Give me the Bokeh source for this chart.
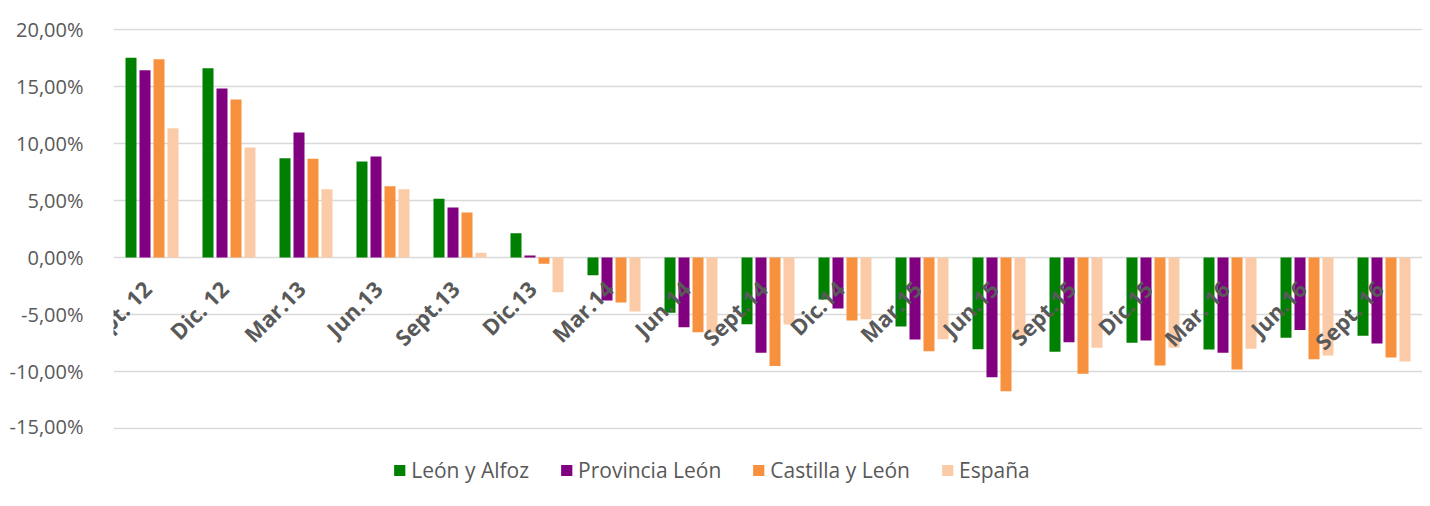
import math
from bokeh.plotting import figure
from bokeh.layouts import column
from bokeh.models import (FactorRange, FixedTicker, Legend, LegendItem, ColumnDataSource,
                          Spacer, LabelSet)
from bokeh.core.properties import value
from bokeh.transform import dodge
from bokeh.embed import file_html
from bokeh.resources import INLINE

categories = ["Sept. 12", "Dic. 12", "Mar.13", "Jun.13", "Sept.13", "Dic.13", "Mar.14",
              "Jun.14", "Sept.14", "Dic.14", "Mar.15", "Jun.15", "Sept.15", "Dic.15",
              "Mar. 16", "Jun.16", "Sept. 16"]

leon_alfoz = [17.52, 16.60, 8.71, 8.42, 5.15, 2.13, -1.55, -4.85, -5.85, -3.68, -6.05,
              -8.04, -8.27, -7.48, -8.07, -7.05, -6.87]
provincia_leon = [16.43, 14.82, 10.96, 8.86, 4.39, 0.18, -3.77, -6.11, -8.36, -4.47, -7.19,
                  -10.50, -7.43, -7.28, -8.36, -6.37, -7.54]
castilla_leon = [17.40, 13.86, 8.66, 6.26, 3.95, -0.55, -3.95, -6.55, -9.53, -5.53, -8.22,
                 -11.73, -10.20, -9.47, -9.82, -8.92, -8.77]
espana = [11.34, 9.65, 5.99, 5.99, 0.41, -3.04, -4.74, -6.58, -5.88, -5.41, -7.17,
          -7.13, -7.92, -7.92, -8.01, -8.60, -9.12]

series_names = ["León y Alfoz", "Provincia León", "Castilla y León", "España"]
series_colors = ["#008000", "#800080", "#F8913D", "#FBCBA7"]

y_ticks = [-15, -10, -5, 0, 5, 10, 15, 20]
y_tick_labels = ["-15,00%", "-10,00%", "-5,00%", "0,00%", "5,00%", "10,00%", "15,00%", "20,00%"]

source = ColumnDataSource(data=dict(cat=categories, s0=leon_alfoz, s1=provincia_leon,
                                    s2=castilla_leon, s3=espana,
                                    zero=[0] * len(categories)))

FONT = "Open Sans"
TXT = "#595959"
GRID = "#D9D9D9"

p = figure(x_range=FactorRange(factors=categories, range_padding=0),
           y_range=(-15.09, 20.09), frame_width=1309, frame_height=401,
           output_backend="svg", toolbar_location=None, x_axis_location=None,
           min_border_left=113, min_border_right=0, min_border_top=28,
           min_border_bottom=10)
p.outline_line_color = None
p.background_fill_color = "white"
p.border_fill_color = "white"

step = 14.0 / 77.0
bw = 11.0 / 77.0
offsets = [-1.5 * step, -0.5 * step, 0.5 * step, 1.5 * step]
for i, col in enumerate(series_colors):
    p.vbar(x=dodge("cat", offsets[i], range=p.x_range), top="s%d" % i, bottom=0,
           width=bw, source=source, fill_color=col, line_color=None)

# y axis
p.yaxis.ticker = FixedTicker(ticks=y_ticks)
p.yaxis.major_label_overrides = {t: l for t, l in zip(y_ticks, y_tick_labels)}
p.yaxis.axis_line_color = None
p.yaxis.major_tick_line_color = None
p.yaxis.minor_tick_line_color = None
p.yaxis.major_label_standoff = 24
p.yaxis.major_label_text_font = FONT
p.yaxis.major_label_text_font_size = "20px"
p.yaxis.major_label_text_color = TXT

p.ygrid.ticker = FixedTicker(ticks=y_ticks)
p.ygrid.grid_line_color = GRID
p.ygrid.grid_line_width = 1.5
p.xgrid.grid_line_color = None

# category labels placed at the zero line
labels = LabelSet(x="cat", y="zero", text="cat", source=source,
                  x_offset=-5, y_offset=-27, angle=math.pi / 4,
                  text_align="right", text_baseline="middle",
                  text_font=value(FONT), text_font_style="bold",
                  text_font_size="22px", text_color=TXT)
p.add_layout(labels)

# legend strip below the chart (its bars fall outside its own view)
lf = figure(x_range=p.x_range, y_range=(100, 101), frame_width=1405, frame_height=40,
            output_backend="svg", toolbar_location=None,
            x_axis_location=None, y_axis_location=None,
            min_border_left=17, min_border_right=0, min_border_top=17,
            min_border_bottom=0)
lf.outline_line_color = None
lf.background_fill_color = "white"
lf.border_fill_color = "white"
lf.xgrid.grid_line_color = None
lf.ygrid.grid_line_color = None
items = []
for i, (name, col) in enumerate(zip(series_names, series_colors)):
    r = lf.vbar(x=dodge("cat", offsets[i], range=p.x_range), top="s%d" % i, bottom=0,
                width=bw, source=source, fill_color=col, line_color=None)
    items.append(LegendItem(label=name, renderers=[r]))

legend = Legend(items=items, orientation="horizontal", location="top_center",
                glyph_width=14, glyph_height=14, label_standoff=5, spacing=30,
                label_text_font=FONT, label_text_font_size="21px",
                label_text_color=TXT, border_line_color=None,
                background_fill_alpha=0, padding=0, margin=0)
lf.add_layout(legend)

lay = column(Spacer(width=1422, height=0), p, lf)
open("out.html", "w").write(file_html(lay, INLINE))
